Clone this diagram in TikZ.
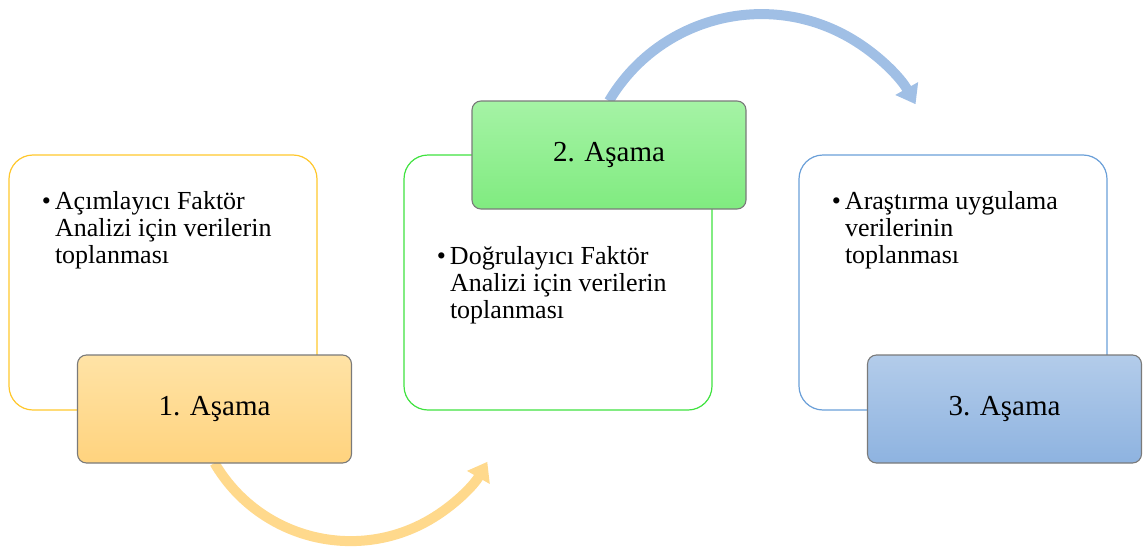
\documentclass[tikz,border=0pt]{standalone}
\usepackage{fontspec}
\setmainfont{Liberation Serif}
\usetikzlibrary{arrows.meta}
\pgfdeclarelayer{background}
\pgfsetlayers{background,main}
\definecolor{yelline}{HTML}{FFC72C}
\definecolor{grnline}{HTML}{3FE23F}
\definecolor{bluline}{HTML}{6A9FD8}
\definecolor{yeltop}{HTML}{FFE3A6}
\definecolor{yelbot}{HTML}{FFD37E}
\definecolor{grntop}{HTML}{A5F3A5}
\definecolor{grnbot}{HTML}{80EB80}
\definecolor{blutop}{HTML}{B3CCEA}
\definecolor{blubot}{HTML}{8EB3E0}
\definecolor{arryel}{HTML}{FFD98C}
\definecolor{arrblu}{HTML}{A0BFE5}
\definecolor{labline}{HTML}{7A7A7A}
\tikzset{
  textbox/.style={rectangle, rounded corners=24pt, line width=1.2pt,
    minimum width=308pt, minimum height=255pt, inner sep=0pt, outer sep=0pt},
  stagebox/.style={rectangle, rounded corners=9pt, draw=labline, line width=1.1pt,
    minimum width=274pt, minimum height=108pt, inner sep=0pt, outer sep=0pt,
    font=\fontsize{29}{31}\selectfont},
  bullettext/.style={align=left, inner sep=0pt, outer sep=0pt,
    font=\fontsize{26}{27}\selectfont, anchor=base west},
  flow/.style={line width=10pt, -{Triangle[width=25pt,length=18pt]}}
}
\begin{document}
\begin{tikzpicture}[x=1pt,y=-1pt]
\useasboundingbox (0,0) rectangle (1143,554);
% text boxes
\node[textbox, draw=yelline] (b1) at (163,282.5) {};
\node[textbox, draw=grnline] (b2) at (558,282.5) {};
\node[textbox, draw=bluline] (b3) at (953,282.5) {};
% stage labels
\node[stagebox, top color=yeltop, bottom color=yelbot] (l1) at (214.5,409) {1. Aşama};
\node[stagebox, top color=grntop, bottom color=grnbot] (l2) at (609,155) {2. Aşama};
\node[stagebox, top color=blutop, bottom color=blubot] (l3) at (1004.5,409) {3. Aşama};
% texts (base anchor sits on the last line)
\node[bullettext] (t1) at (55,263) {\llap{\textbullet\hspace{4pt}}Açımlayıcı Faktör\\Analizi için verilerin\\toplanması};
\node[bullettext] (t2) at (450,318) {\llap{\textbullet\hspace{4pt}}Doğrulayıcı Faktör\\Analizi için verilerin\\toplanması};
\node[bullettext] (t3) at (845,263) {\llap{\textbullet\hspace{4pt}}Araştırma uygulama\\verilerinin\\toplanması};
% arrows
\begin{pgfonlayer}{background}
\draw[flow, draw=arryel] (l1.south) arc[start angle=149.7, end angle=29.8, radius=157.6];
\draw[flow, draw=arrblu] (l2.north) arc[start angle=210.6, end angle=330.6, radius=177];
\end{pgfonlayer}
\end{tikzpicture}
\end{document}
